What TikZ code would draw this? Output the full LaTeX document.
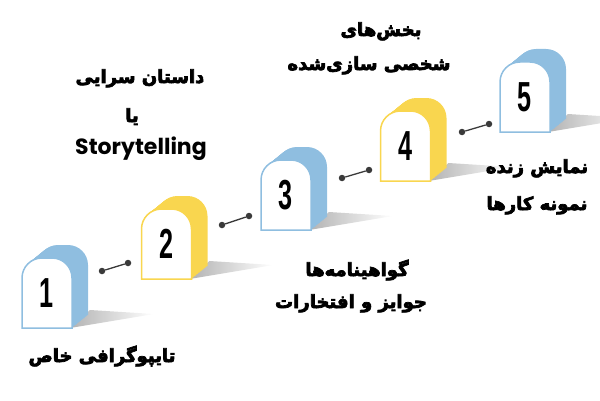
\documentclass[tikz,border=0pt]{standalone}
\usepackage{fontspec}
\TeXXeTstate=1
\newfontfamily\fa[Script=Arabic, FakeBold=4]{DejaVu Sans Bold}
\newfontfamily\pop{Poppins}
\newfontfamily\numfont{Liberation Sans}
\definecolor{sblue}{HTML}{8FBEE0}
\definecolor{syel}{HTML}{F9D64F}
\definecolor{dotc}{HTML}{3A3A3A}
\tikzset{
  fa label/.style={font=\fa\fontsize{18}{20}\selectfont, anchor=base, inner sep=0},
  en label/.style={font=\pop\bfseries\fontsize{22}{24}\selectfont, anchor=base, inner sep=0},
  dotpt/.style={circle, fill=dotc, inner sep=0, minimum size=6.5},
  link/.style={draw=dotc, line width=1.3},
  digit/.style={font=\numfont\bfseries\fontsize{42}{42}\selectfont, inner sep=0},
  frontface/.style={insert path={(0,0) -- (0,50) arc[start angle=180,end angle=90,radius=20] -- (30,70) arc[start angle=90,end angle=0,radius=20] -- (50,0) -- cycle}},
}
\newcommand\drawstone[5]{%
  \begin{scope}[shift={(#2,#3)}]
    \shade[left color=black!30, right color=white] (48,0) -- (68,18) -- (132,14) -- cycle;
    \foreach \t in {0,...,20}{\fill[#4, shift={(0.8*\t,0.65*\t)}, frontface];}
    \filldraw[fill=white, draw=#4, line width=1.5, frontface];
    \node[digit] (#1) at (25,35) {\scalebox{0.6}[1]{#5}};
  \end{scope}}
\begin{document}
\begin{tikzpicture}[x=1pt,y=1pt]
\useasboundingbox (0,0) rectangle (600,400);
\drawstone{s1}{22}{72}{sblue}{1}
\drawstone{s2}{141.5}{121}{syel}{2}
\drawstone{s3}{261}{170}{sblue}{3}
\drawstone{s4}{380.5}{219}{syel}{4}
\drawstone{s5}{500}{268}{sblue}{5}
% connectors
\node[dotpt] (a1) at (102,129) {};
\node[dotpt] (b1) at (128,137) {};
\node[dotpt] (a2) at (222,175) {};
\node[dotpt] (b2) at (249,184) {};
\node[dotpt] (a3) at (342,222) {};
\node[dotpt] (b3) at (369,230) {};
\node[dotpt] (a4) at (462,268) {};
\node[dotpt] (b4) at (489,276) {};
\draw[link] (a1) -- (b1);
\draw[link] (a2) -- (b2);
\draw[link] (a3) -- (b3);
\draw[link] (a4) -- (b4);
% labels
\node[fa label] (t1) at (102,38) {\beginR تایپوگرافی خاص\endR};
\node[fa label] (t2a) at (140,317) {\beginR داستان سرایی\endR};
\node[fa label] (t2b) at (132,278) {\beginR یا\endR};
\node[en label] (t2c) at (141,246) {Storytelling};
\node[fa label] (t3a) at (357,124) {\beginR گواهینامه^^^^200cها\endR};
\node[fa label] (t3b) at (351,92) {\beginR جوایز و افتخارات\endR};
\node[fa label] (t4a) at (381,364) {\beginR بخش^^^^200cهای\endR};
\node[fa label] (t4b) at (369,330) {\beginR شخصی سازی^^^^200cشده\endR};
\node[fa label] (t5a) at (537,227) {\beginR نمایش زنده\endR};
\node[fa label] (t5b) at (537,190) {\beginR نمونه کارها\endR};
\end{tikzpicture}
\end{document}
